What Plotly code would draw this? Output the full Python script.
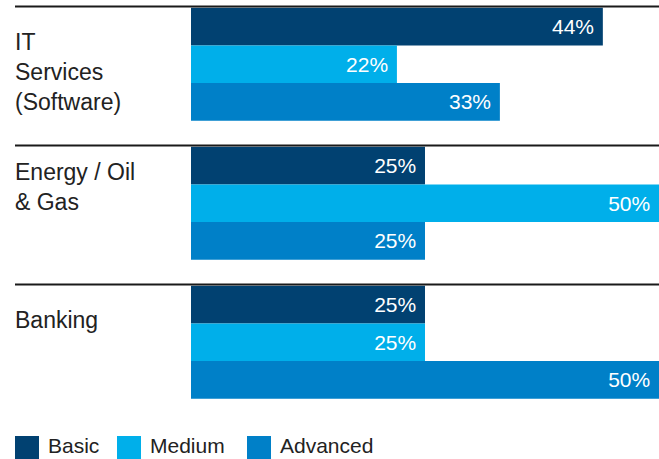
import plotly.graph_objects as go

# ---- data ----
categories = ["IT Services (Software)", "Energy / Oil & Gas", "Banking"]
category_labels = ["IT<br>Services<br>(Software)", "Energy / Oil<br>& Gas", "Banking"]
series_names = ["Basic", "Medium", "Advanced"]
basic = [44, 25, 25]
medium = [22, 50, 25]
advanced = [33, 25, 50]

colors = ["#014171", "#00AFEA", "#0080C8"]
label_shifts = [37, 46, 37]

W, H = 659, 459
ML, MR, MT, MB = 191, 0, 0, 41
PW, PH = W - ML - MR, H - MT - MB
BARGAP = 0.187


def px2x(px):
    return (px - ML) / PW


def px2y(py):
    return (H - MB - py) / PH


FONT = "Liberation Sans, Arial, Helvetica, sans-serif"

fig = go.Figure()
for name, vals, col in zip(series_names, [basic, medium, advanced], colors):
    fig.add_trace(go.Bar(
        y=categories, x=vals, orientation="h", name=name,
        marker=dict(color=col, line=dict(width=0)),
        text=[f"{v}%\u00a0" for v in vals],
        textposition="inside", insidetextanchor="end",
        textfont=dict(color="white", size=21, family=FONT),
        showlegend=False,
    ))

shapes = []
annotations = []
for i, (cat, lab, ys) in enumerate(zip(categories, category_labels, label_shifts)):
    ytop = i - (1 - BARGAP) / 2 - 0.008
    shapes.append(dict(type="line", xref="paper", yref="y",
                       x0=px2x(15), x1=1, y0=ytop, y1=ytop,
                       line=dict(color="#1a1a1a", width=2), layer="above"))
    annotations.append(dict(xref="paper", yref="y", x=px2x(13), y=cat,
                            xanchor="left", yanchor="top", yshift=ys,
                            text=lab, showarrow=False, align="left",
                            font=dict(size=23, color="#222222", family=FONT)))

# custom legend
legend_x = [15, 117, 247]
for name, col, lx in zip(series_names, colors, legend_x):
    shapes.append(dict(type="rect", xref="paper", yref="paper",
                       x0=px2x(lx), x1=px2x(lx + 24), y0=px2y(436), y1=px2y(459),
                       fillcolor=col, line=dict(width=0)))
    annotations.append(dict(xref="paper", yref="paper", x=px2x(lx + 31),
                            y=px2y(446), xanchor="left", yanchor="middle",
                            text=name, showarrow=False,
                            font=dict(size=21, color="#222222", family=FONT)))

fig.update_layout(
    width=W, height=H,
    margin=dict(l=ML, r=MR, t=MT, b=MB, pad=0),
    paper_bgcolor="white", plot_bgcolor="white",
    barmode="group", bargap=BARGAP, bargroupgap=0,
    xaxis=dict(range=[0, 50], showgrid=False, zeroline=False,
               showticklabels=False, showline=False, fixedrange=True),
    yaxis=dict(type="category", range=[2.545, -0.462], showgrid=False,
               zeroline=False, showticklabels=False, showline=False,
               fixedrange=True),
    shapes=shapes, annotations=annotations,
    font=dict(family=FONT),
    uniformtext=dict(minsize=21, mode="show"),
)

fig.write_html("out.html", config={"displayModeBar": False},
               post_script="document.body.style.margin='0px';document.body.style.overflow='hidden';")
